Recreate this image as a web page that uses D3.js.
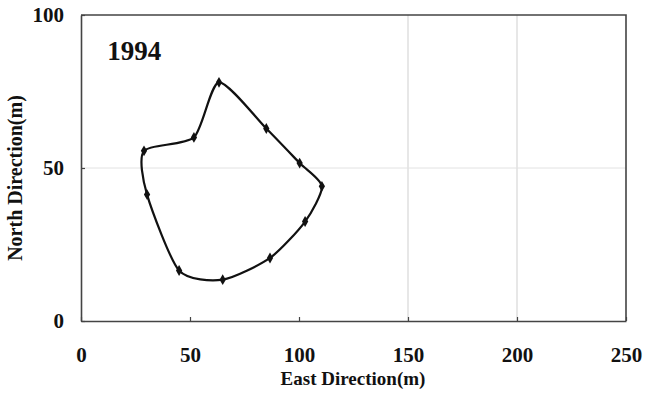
<!DOCTYPE html>
<html>
<head>
<meta charset="utf-8">
<script src="https://cdn.jsdelivr.net/npm/d3@7"></script>
<style>
  html, body { margin: 0; padding: 0; background: #fff; }
  svg { display: block; }
  .lbl { font-family: "Liberation Serif", "Times New Roman", serif; font-weight: bold; fill: #111; }
</style>
</head>
<body>
<div id="chart"></div>
<script>
// Boundary survey points, 1994 (metres east / north)
const eastM  = [63.3, 85.0, 100.3, 110.5, 102.8, 86.7, 65.0, 45.0, 30.3, 28.9, 51.8];
const northM = [78.0, 62.9, 51.6, 44.0, 32.5, 20.6, 13.5, 16.5, 41.3, 55.6, 60.0];
const xTicks = [0, 50, 100, 150, 200, 250];
const yTicks = [0, 50, 100];
const xGrid = [150, 200];
const yGrid = [50];
const yearLabel = "1994";

const width = 646, height = 396;
const margin = { top: 15, right: 20, bottom: 75, left: 81 };

const svg = d3.select("#chart").append("svg")
  .attr("width", width)
  .attr("height", height);

const x = d3.scaleLinear().domain([0, 250]).range([margin.left, width - margin.right]);
const y = d3.scaleLinear().domain([0, 100]).range([height - margin.bottom, margin.top]);

// light grid
svg.append("g")
  .selectAll("line.gx")
  .data(xGrid)
  .join("line")
  .attr("x1", d => x(d)).attr("x2", d => x(d))
  .attr("y1", y(0)).attr("y2", y(100))
  .attr("stroke", "#cfcfcf").attr("stroke-width", 1);

svg.append("g")
  .selectAll("line.gy")
  .data(yGrid)
  .join("line")
  .attr("x1", x(0)).attr("x2", x(250))
  .attr("y1", d => y(d)).attr("y2", d => y(d))
  .attr("stroke", "#e2e2e2").attr("stroke-width", 1);

// axes with inward ticks
const xAxis = svg.append("g")
  .attr("transform", "translate(0," + y(0) + ")")
  .call(d3.axisBottom(x).tickValues(xTicks).tickSizeInner(-4).tickSizeOuter(0).tickPadding(26));
const yAxis = svg.append("g")
  .attr("transform", "translate(" + x(0) + ",0)")
  .call(d3.axisLeft(y).tickValues(yTicks).tickSizeInner(-4).tickSizeOuter(0).tickPadding(17));

[xAxis, yAxis].forEach(function (g) {
  g.select(".domain").attr("stroke", "#444").attr("stroke-width", 1.6);
  g.selectAll(".tick line").attr("stroke", "#444").attr("stroke-width", 1.2);
  g.selectAll(".tick text")
    .attr("class", "lbl")
    .attr("font-size", 21)
    .attr("fill", "#111");
});
xAxis.selectAll(".tick text").attr("dy", "0.71em");

// top / right frame
svg.append("path")
  .attr("d", "M" + x(0) + "," + y(100) + "H" + x(250) + "V" + y(0))
  .attr("fill", "none")
  .attr("stroke", "#444")
  .attr("stroke-width", 1.6);

// smoothed closed outline
const pts = eastM.map((e, i) => [e, northM[i]]);
const line = d3.line()
  .x(d => x(d[0]))
  .y(d => y(d[1]))
  .curve(d3.curveCardinalClosed.tension(0.3));

svg.append("path")
  .datum(pts)
  .attr("d", line)
  .attr("fill", "none")
  .attr("stroke", "#111")
  .attr("stroke-width", 2.2);

svg.append("g")
  .selectAll("path")
  .data(pts)
  .join("path")
  .attr("transform", d => "translate(" + x(d[0]) + "," + y(d[1]) + ")")
  .attr("d", d3.symbol().type(d3.symbolDiamond).size(34))
  .attr("fill", "#111");

// year label
svg.append("text")
  .attr("class", "lbl")
  .attr("x", x(12))
  .attr("y", 60)
  .attr("font-size", 27)
  .text(yearLabel);

// axis titles
svg.append("text")
  .attr("class", "lbl")
  .attr("x", 353)
  .attr("y", 385)
  .attr("text-anchor", "middle")
  .attr("font-size", 19)
  .text("East Direction(m)");

svg.append("text")
  .attr("class", "lbl")
  .attr("transform", "translate(22,178) rotate(-90)")
  .attr("text-anchor", "middle")
  .attr("font-size", 20)
  .text("North Direction(m)");
</script>
</body>
</html>
